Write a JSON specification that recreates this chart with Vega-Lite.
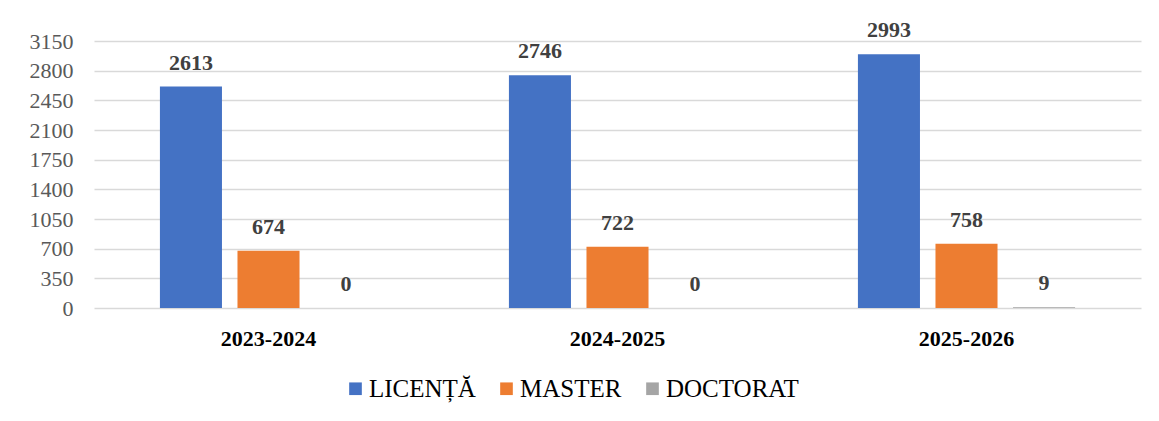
{
  "$schema": "https://vega.github.io/schema/vega-lite/v6.json",
  "width": 1047,
  "height": 267,
  "autosize": {"type": "none"},
  "padding": {"left": 94, "top": 41, "right": 18, "bottom": 113},
  "background": "white",
  "config": {
    "font": "Liberation Serif",
    "view": {"stroke": null},
    "axis": {"labelFont": "Liberation Serif"},
    "legend": {"labelFont": "Liberation Serif"},
    "text": {"font": "Liberation Serif"}
  },
  "data": {
    "values": [
      {"year": "2023-2024", "series": "LICENȚĂ", "value": 2613},
      {"year": "2023-2024", "series": "MASTER", "value": 674},
      {"year": "2023-2024", "series": "DOCTORAT", "value": 0},
      {"year": "2024-2025", "series": "LICENȚĂ", "value": 2746},
      {"year": "2024-2025", "series": "MASTER", "value": 722},
      {"year": "2024-2025", "series": "DOCTORAT", "value": 0},
      {"year": "2025-2026", "series": "LICENȚĂ", "value": 2993},
      {"year": "2025-2026", "series": "MASTER", "value": 758},
      {"year": "2025-2026", "series": "DOCTORAT", "value": 9}
    ]
  },
  "encoding": {
    "x": {
      "field": "year", "type": "nominal", "title": null,
      "scale": {"paddingInner": 0, "paddingOuter": 0},
      "axis": {
        "labelAngle": 0, "labelFont": "Liberation Serif", "labelFontSize": 22,
        "labelFontWeight": "bold", "labelColor": "#000000", "labelPadding": 20,
        "ticks": false, "domain": false
      }
    },
    "xOffset": {
      "field": "series", "type": "nominal",
      "sort": ["LICENȚĂ", "MASTER", "DOCTORAT"],
      "scale": {"paddingInner": 0.2, "paddingOuter": 0.85}
    },
    "y": {
      "field": "value", "type": "quantitative", "title": null,
      "scale": {"domain": [0, 3150], "nice": false},
      "axis": {
        "values": [0, 350, 700, 1050, 1400, 1750, 2100, 2450, 2800, 3150],
        "format": "d",
        "labelFont": "Liberation Serif", "labelFontSize": 22, "labelColor": "#595959",
        "labelPadding": 21, "ticks": false, "domain": false,
        "gridColor": "#d9d9d9", "gridWidth": 1.5
      }
    }
  },
  "layer": [
    {
      "mark": {"type": "bar"},
      "encoding": {
        "color": {
          "field": "series", "type": "nominal", "title": null,
          "sort": ["LICENȚĂ", "MASTER", "DOCTORAT"],
          "scale": {"domain": ["LICENȚĂ", "MASTER", "DOCTORAT"], "range": ["#4472C4", "#ED7D31", "#A5A5A5"]},
          "legend": {
            "orient": "none", "direction": "horizontal",
            "legendX": 249, "legendY": 335,
            "symbolType": "square", "symbolSize": 160, "symbolStrokeWidth": 0,
            "labelFont": "Liberation Serif", "labelFontSize": 25, "labelColor": "#000000",
            "labelOffset": 1, "columnPadding": 18, "labelLimit": 300
          }
        }
      }
    },
    {
      "mark": {"type": "text", "baseline": "alphabetic", "dy": -17, "font": "Liberation Serif", "fontSize": 22, "fontWeight": "bold", "color": "#404040"},
      "encoding": {
        "text": {"field": "value", "type": "quantitative"}
      }
    }
  ]
}
